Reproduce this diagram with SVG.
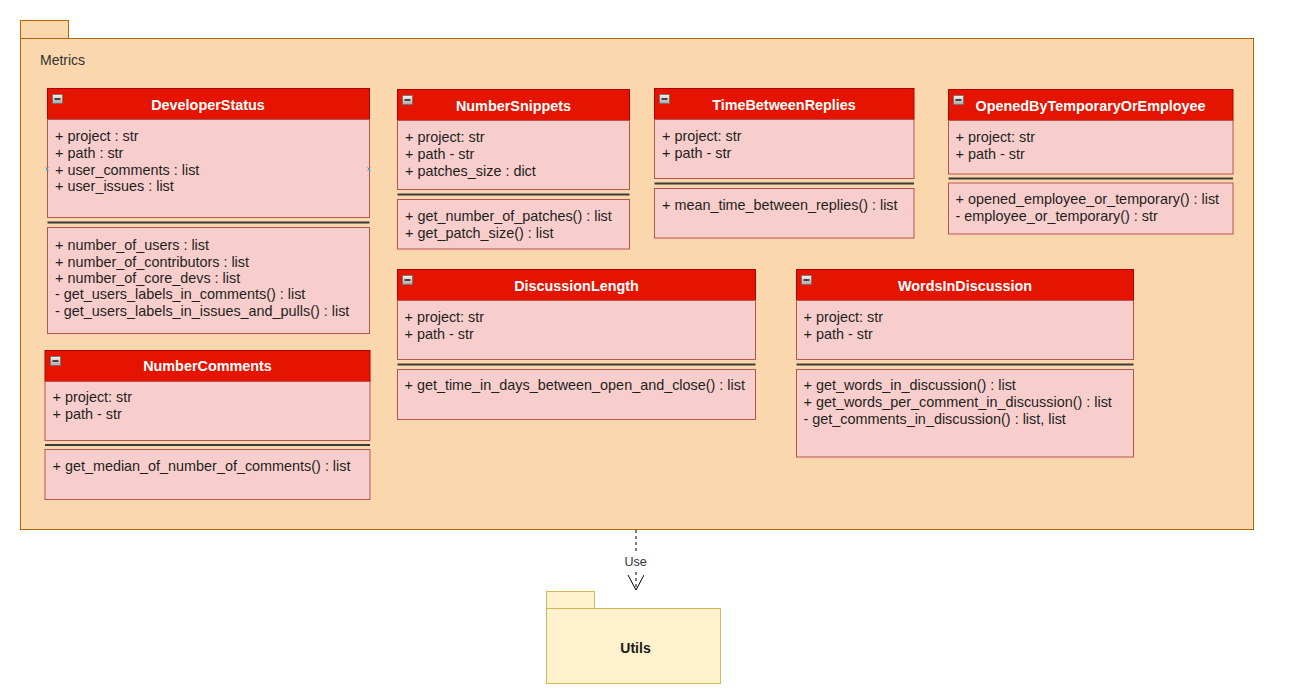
<svg xmlns="http://www.w3.org/2000/svg" width="1298" height="698" viewBox="0 0 1298 698">
<defs>
<linearGradient id="ig" x1="0" y1="0" x2="0" y2="1"><stop offset="0" stop-color="#f4f4f4"/><stop offset="1" stop-color="#a9a9a9"/></linearGradient>
<marker id="open" markerWidth="20" markerHeight="20" refX="16" refY="8" orient="auto" markerUnits="userSpaceOnUse"><path d="M1,0 L16,8 L1,16" fill="none" stroke="#000" stroke-width="1"/></marker>
<style>
.pkg{fill:#fad7ac;stroke:#b46504;stroke-width:1}
.upkg{fill:#fff2cc;stroke:#d6b656;stroke-width:1}
.hd{fill:#e51400;stroke:#b20000;stroke-width:1}
.bd{fill:#f8cecc;stroke:#b85450;stroke-width:1}
.sep{stroke:#3a3a3a;stroke-width:1.8}
.ic{fill:url(#ig);stroke:#6e6e6e;stroke-width:0.8}
.icm{stroke:#222;stroke-width:1.6}
.t{font-family:"Liberation Sans",Arial,Helvetica,sans-serif;font-size:14.4px;fill:#1e1e1e}
.ti{font-family:"Liberation Sans",Arial,Helvetica,sans-serif;font-size:14.4px;font-weight:bold;fill:#ffffff;text-anchor:middle}
.lbl{font-family:"Liberation Sans",Arial,Helvetica,sans-serif;font-size:14px;fill:#333333}
.cx{stroke:#29a8e0;stroke-width:1}
</style>
</defs>
<rect width="1298" height="698" fill="#ffffff"/>

<g id="Metrics">
<rect class="pkg" x="20.5" y="20.5" width="48" height="18"/>
<rect class="pkg" x="20.5" y="38.5" width="1233" height="491"/>
<text class="lbl" x="40" y="65">Metrics</text>
</g>

<g id="DeveloperStatus">
<rect class="hd" x="47.5" y="88.5" width="322" height="31"/>
<rect class="ic" x="52.5" y="94.5" width="10" height="9"/><line class="icm" x1="54.5" y1="99" x2="60.5" y2="99"/>
<text class="ti" x="208" y="110">DeveloperStatus</text>
<rect class="bd" x="47.5" y="119.5" width="322" height="98"/>
<line class="sep" x1="47.5" y1="222.5" x2="369.5" y2="222.5"/>
<rect class="bd" x="47.5" y="227.5" width="322" height="106"/>
<text class="t" x="55" y="141">+ project : str</text>
<text class="t" x="55" y="158">+ path : str</text>
<text class="t" x="55" y="174.5">+ user_comments : list</text>
<text class="t" x="55" y="191">+ user_issues : list</text>
<text class="t" x="55" y="249.5">+ number_of_users : list</text>
<text class="t" x="55" y="266.5">+ number_of_contributors : list</text>
<text class="t" x="55" y="282.5">+ number_of_core_devs : list</text>
<text class="t" x="55" y="299">- get_users_labels_in_comments() : list</text>
<text class="t" x="55" y="316">- get_users_labels_in_issues_and_pulls() : list</text>
<path class="cx" d="M45.5,167.5 l3,3 M48.5,167.5 l-3,3 M367.5,167.5 l3,3 M370.5,167.5 l-3,3"/>
</g>

<g id="NumberComments">
<rect class="hd" x="45" y="350.5" width="325" height="31"/>
<rect class="ic" x="50.5" y="356.5" width="10" height="9"/><line class="icm" x1="52.5" y1="361" x2="58.5" y2="361"/>
<text class="ti" x="207.5" y="371">NumberComments</text>
<rect class="bd" x="45" y="381.5" width="325" height="59"/>
<line class="sep" x1="45" y1="445" x2="370" y2="445"/>
<rect class="bd" x="45" y="449.5" width="325" height="50"/>
<text class="t" x="52.5" y="402">+ project: str</text>
<text class="t" x="52.5" y="419">+ path - str</text>
<text class="t" x="52.5" y="471">+ get_median_of_number_of_comments() : list</text>
</g>

<g id="NumberSnippets">
<rect class="hd" x="397.5" y="89.5" width="232" height="31"/>
<rect class="ic" x="402.5" y="95.5" width="10" height="9"/><line class="icm" x1="404.5" y1="100" x2="410.5" y2="100"/>
<text class="ti" x="513.5" y="111">NumberSnippets</text>
<rect class="bd" x="397.5" y="120.5" width="232" height="69"/>
<line class="sep" x1="397.5" y1="194.5" x2="629.5" y2="194.5"/>
<rect class="bd" x="397.5" y="199.5" width="232" height="49.5"/>
<text class="t" x="405" y="142">+ project: str</text>
<text class="t" x="405" y="159">+ path - str</text>
<text class="t" x="405" y="176">+ patches_size : dict</text>
<text class="t" x="405" y="220.5">+ get_number_of_patches() : list</text>
<text class="t" x="405" y="237.5">+ get_patch_size() : list</text>
</g>

<g id="TimeBetweenReplies">
<rect class="hd" x="654.5" y="88.5" width="259.5" height="31"/>
<rect class="ic" x="659.5" y="94.5" width="10" height="9"/><line class="icm" x1="661.5" y1="99" x2="667.5" y2="99"/>
<text class="ti" x="784" y="110">TimeBetweenReplies</text>
<rect class="bd" x="654.5" y="119.5" width="259.5" height="59"/>
<line class="sep" x1="654.5" y1="183.5" x2="914" y2="183.5"/>
<rect class="bd" x="654.5" y="188.5" width="259.5" height="49.5"/>
<text class="t" x="662" y="141">+ project: str</text>
<text class="t" x="662" y="158">+ path - str</text>
<text class="t" x="662" y="209.5">+ mean_time_between_replies() : list</text>
</g>

<g id="OpenedByTemporaryOrEmployee">
<rect class="hd" x="948.5" y="89.5" width="284.5" height="31"/>
<rect class="ic" x="953.5" y="95.5" width="10" height="9"/><line class="icm" x1="955.5" y1="100" x2="961.5" y2="100"/>
<text class="ti" x="1090.5" y="111">OpenedByTemporaryOrEmployee</text>
<rect class="bd" x="948.5" y="120.5" width="284.5" height="53.5"/>
<line class="sep" x1="948.5" y1="178.5" x2="1233" y2="178.5"/>
<rect class="bd" x="948.5" y="183" width="284.5" height="51"/>
<text class="t" x="955.5" y="142">+ project: str</text>
<text class="t" x="955.5" y="159">+ path - str</text>
<text class="t" x="955.5" y="204">+ opened_employee_or_temporary() : list</text>
<text class="t" x="955.5" y="221">- employee_or_temporary() : str</text>
</g>

<g id="DiscussionLength">
<rect class="hd" x="397.5" y="269.5" width="358" height="31"/>
<rect class="ic" x="402.5" y="275.5" width="10" height="9"/><line class="icm" x1="404.5" y1="280" x2="410.5" y2="280"/>
<text class="ti" x="576.5" y="291">DiscussionLength</text>
<rect class="bd" x="397.5" y="300.5" width="358" height="59"/>
<line class="sep" x1="397.5" y1="364.5" x2="755.5" y2="364.5"/>
<rect class="bd" x="397.5" y="369.5" width="358" height="50"/>
<text class="t" x="404.5" y="322">+ project: str</text>
<text class="t" x="404.5" y="339">+ path - str</text>
<text class="t" x="404.5" y="390">+ get_time_in_days_between_open_and_close() : list</text>
</g>

<g id="WordsInDiscussion">
<rect class="hd" x="796.5" y="269.5" width="337" height="31"/>
<rect class="ic" x="801.5" y="275.5" width="10" height="9"/><line class="icm" x1="803.5" y1="280" x2="809.5" y2="280"/>
<text class="ti" x="965" y="291">WordsInDiscussion</text>
<rect class="bd" x="796.5" y="300.5" width="337" height="59"/>
<line class="sep" x1="796.5" y1="364.5" x2="1133.5" y2="364.5"/>
<rect class="bd" x="796.5" y="369.5" width="337" height="87.5"/>
<text class="t" x="803.5" y="322">+ project: str</text>
<text class="t" x="803.5" y="339">+ path - str</text>
<text class="t" x="803.5" y="390">+ get_words_in_discussion() : list</text>
<text class="t" x="803.5" y="407">+ get_words_per_comment_in_discussion() : list</text>
<text class="t" x="803.5" y="424">- get_comments_in_discussion() : list, list</text>
</g>

<g id="Utils">
<rect class="upkg" x="546.5" y="591.5" width="48" height="17"/>
<rect class="upkg" x="546.5" y="608.5" width="174" height="75"/>
<text class="lbl" x="635.5" y="653" text-anchor="middle" font-weight="bold" style="fill:#1a1a1a">Utils</text>
</g>

<g id="connectors">
<line x1="636" y1="530" x2="636" y2="590" stroke="#000" stroke-width="1" stroke-dasharray="3,3" marker-end="url(#open)"/>
<rect x="621" y="553" width="30" height="16" fill="#ffffff"/>
<text class="lbl" x="635.5" y="566" text-anchor="middle" style="font-size:12.5px">Use</text>
</g>
</svg>
